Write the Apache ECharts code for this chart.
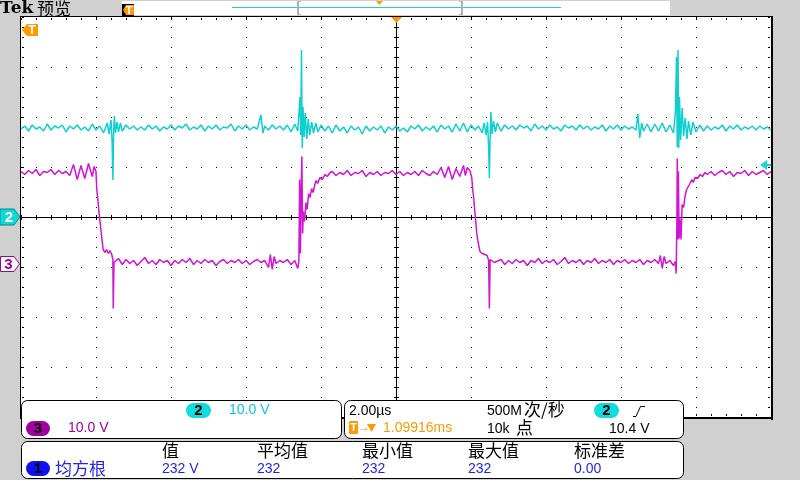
<!DOCTYPE html>
<html><head><meta charset="utf-8">
<script src="https://cdn.jsdelivr.net/npm/echarts@6/dist/echarts.min.js"></script>
<style>html,body{margin:0;padding:0;background:#d0d0d0}#c{width:800px;height:480px}</style>
</head><body><div id="c"></div><script>
// ---- data (time in µs, volts) ----
const ch2Samples = [[0,17.6],[0.1,18.2],[0.2,17.2],[0.3,18.4],[0.4,17.6],[0.5,18.0],[0.6,17.2],[0.7,18.6],[0.8,17.4],[0.9,18.2],[1.0,17.8],[1.1,18.4],[1.2,17.0],[1.3,18.2],[1.4,17.6],[1.5,18.4],[1.6,17.4],[1.7,18.0],[1.8,17.2],[1.9,18.6],[2.0,17.4],[2.1,18.2],[2.2,16.8],[2.3,18.8],[2.35,16.6],[2.4,19.4],[2.43,15.0],[2.45,7.4],[2.47,17.0],[2.49,20.2],[2.52,16.8],[2.56,19.0],[2.6,17.0],[2.65,18.8],[2.7,17.2],[2.8,18.4],[2.9,17.6],[3.0,18.2],[3.1,17.4],[3.2,18.0],[3.3,17.4],[3.4,18.4],[3.5,17.6],[3.6,18.2],[3.7,17.2],[3.8,18.0],[3.9,17.6],[4.0,18.4],[4.1,17.4],[4.2,18.2],[4.3,17.8],[4.4,18.6],[4.5,17.4],[4.6,18.0],[4.7,17.6],[4.8,18.4],[4.9,17.2],[5.0,18.2],[5.1,17.6],[5.2,18.4],[5.3,17.4],[5.4,18.0],[5.5,17.8],[5.6,18.6],[5.7,17.2],[5.8,18.2],[5.9,17.6],[6.0,18.4],[6.1,17.4],[6.2,18.0],[6.3,17.6],[6.4,20.4],[6.45,16.8],[6.5,18.2],[6.6,17.4],[6.7,18.4],[6.8,17.6],[6.9,18.2],[7.0,17.4],[7.1,18.4],[7.2,17.0],[7.3,18.6],[7.38,17.2],[7.42,21.6],[7.44,24.0],[7.46,16.4],[7.48,33.4],[7.5,13.8],[7.52,22.0],[7.55,16.0],[7.58,20.8],[7.62,15.6],[7.66,19.6],[7.7,16.4],[7.75,19.0],[7.8,16.8],[7.86,18.8],[7.92,17.0],[8.0,18.4],[8.1,17.2],[8.2,18.2],[8.3,16.8],[8.4,18.4],[8.5,17.2],[8.6,18.0],[8.7,16.8],[8.8,18.2],[8.9,17.4],[9.0,18.0],[9.1,16.6],[9.2,18.2],[9.3,17.2],[9.4,18.0],[9.5,17.4],[9.6,18.2],[9.7,16.8],[9.8,18.0],[9.9,17.4],[10.0,18.2],[10.1,17.2],[10.2,17.8],[10.3,17.0],[10.4,18.2],[10.5,17.6],[10.6,18.4],[10.7,17.2],[10.8,18.0],[10.9,17.4],[11.0,18.2],[11.1,17.0],[11.2,18.4],[11.3,17.6],[11.4,18.2],[11.5,17.0],[11.6,18.6],[11.7,17.2],[11.8,18.8],[11.9,17.0],[12.0,18.4],[12.1,17.4],[12.2,18.2],[12.3,16.8],[12.35,18.8],[12.4,16.4],[12.44,19.0],[12.47,14.0],[12.49,7.8],[12.51,16.2],[12.53,21.0],[12.56,16.6],[12.6,19.2],[12.65,17.0],[12.7,18.8],[12.8,17.2],[12.9,18.4],[13.0,17.6],[13.1,18.2],[13.2,17.4],[13.3,18.4],[13.4,17.8],[13.5,18.2],[13.6,17.2],[13.7,18.6],[13.8,17.6],[13.9,18.2],[14.0,17.4],[14.1,18.4],[14.2,17.6],[14.3,18.0],[14.4,17.2],[14.5,18.4],[14.6,17.8],[14.7,18.2],[14.8,17.4],[14.9,18.4],[15.0,17.6],[15.1,18.2],[15.2,17.4],[15.3,18.0],[15.4,17.6],[15.5,18.4],[15.6,17.2],[15.7,18.2],[15.8,17.6],[15.9,18.4],[16.0,17.4],[16.1,18.2],[16.2,17.6],[16.3,18.0],[16.4,17.4],[16.45,20.6],[16.5,15.8],[16.55,18.8],[16.6,17.2],[16.7,18.6],[16.8,17.0],[16.9,18.6],[17.0,17.2],[17.1,18.8],[17.2,17.0],[17.3,18.4],[17.4,16.8],[17.45,21.0],[17.48,32.0],[17.5,14.0],[17.52,33.4],[17.54,13.8],[17.56,24.0],[17.59,15.4],[17.63,21.8],[17.67,16.2],[17.71,19.8],[17.76,15.6],[17.8,19.2],[17.86,16.4],[17.92,19.0],[18.0,17.0],[18.1,18.4],[18.2,17.2],[18.3,18.2],[18.4,17.4],[18.5,18.0],[18.6,17.6],[18.7,18.4],[18.8,17.2],[18.9,18.2],[19.0,17.6],[19.1,18.4],[19.2,17.4],[19.3,18.0],[19.4,17.6],[19.5,18.2],[19.6,17.4],[19.7,18.2],[19.8,17.6],[19.9,18.0],[20.0,17.4]];

const ch3Samples = [[0,18.4],[0.1,17.8],[0.2,18.6],[0.3,18.0],[0.4,18.8],[0.5,17.6],[0.6,18.4],[0.7,18.2],[0.8,18.8],[0.9,17.8],[1.0,18.6],[1.1,18.0],[1.2,18.4],[1.3,17.6],[1.4,19.8],[1.5,16.8],[1.6,19.6],[1.7,17.0],[1.8,20.0],[1.9,17.4],[1.95,19.4],[2.0,18.4],[2.02,14.8],[2.05,12.8],[2.08,10.2],[2.11,8.2],[2.13,6.8],[2.16,4.8],[2.19,2.8],[2.24,2.2],[2.28,2.8],[2.33,2.0],[2.37,2.6],[2.42,1.8],[2.45,0.8],[2.46,-9.0],[2.48,0.2],[2.51,0.4],[2.6,1.0],[2.7,-0.2],[2.8,0.8],[2.9,0.0],[3.0,0.6],[3.1,-0.4],[3.2,0.4],[3.3,1.2],[3.4,0.0],[3.5,0.6],[3.6,-0.2],[3.7,0.8],[3.8,0.2],[3.9,0.6],[4.0,-0.4],[4.1,0.6],[4.2,0.0],[4.3,0.8],[4.4,0.2],[4.5,1.0],[4.6,-0.2],[4.7,0.6],[4.8,0.0],[4.9,0.8],[5.0,0.2],[5.1,0.6],[5.2,-0.4],[5.3,0.4],[5.4,0.8],[5.5,0.0],[5.6,0.6],[5.7,0.2],[5.8,0.8],[5.9,0.0],[6.0,0.6],[6.1,-0.2],[6.2,0.4],[6.3,0.8],[6.4,0.2],[6.5,0.6],[6.6,-0.8],[6.65,1.8],[6.7,-1.2],[6.75,1.4],[6.8,0.0],[6.9,0.6],[7.0,0.2],[7.1,0.8],[7.2,-0.2],[7.3,0.6],[7.38,-1.0],[7.41,0.4],[7.43,16.8],[7.45,2.0],[7.47,14.0],[7.49,21.4],[7.51,6.0],[7.53,10.4],[7.56,8.4],[7.6,12.2],[7.63,10.8],[7.67,14.0],[7.71,13.2],[7.75,15.0],[7.79,14.2],[7.83,15.6],[7.87,16.6],[7.91,16.0],[7.97,17.2],[8.03,16.8],[8.11,17.8],[8.17,17.4],[8.24,18.2],[8.3,18.4],[8.4,17.6],[8.5,18.2],[8.6,17.8],[8.7,18.6],[8.8,17.6],[8.9,18.2],[9.0,18.0],[9.1,18.6],[9.2,17.4],[9.3,18.2],[9.4,17.8],[9.5,18.4],[9.6,17.6],[9.7,18.2],[9.8,18.0],[9.9,18.6],[10.0,17.8],[10.1,18.4],[10.2,17.6],[10.3,18.2],[10.4,17.8],[10.5,18.4],[10.6,17.6],[10.7,18.6],[10.8,18.0],[10.9,17.6],[11.0,18.4],[11.1,17.8],[11.2,19.2],[11.3,17.2],[11.4,19.4],[11.5,16.8],[11.6,19.0],[11.7,17.4],[11.8,19.6],[11.85,17.6],[11.9,19.2],[11.97,18.6],[12.02,17.2],[12.05,14.4],[12.07,13.4],[12.09,11.4],[12.13,8.2],[12.15,6.2],[12.19,4.2],[12.24,2.4],[12.3,2.0],[12.37,1.8],[12.43,1.6],[12.47,0.6],[12.49,-9.0],[12.51,0.8],[12.56,0.8],[12.62,0.2],[12.67,0.4],[12.8,0.8],[12.9,-0.2],[13.0,0.6],[13.1,0.0],[13.2,0.8],[13.3,0.2],[13.4,0.6],[13.5,-0.4],[13.6,0.6],[13.7,0.2],[13.8,1.0],[13.9,0.0],[14.0,0.6],[14.1,0.2],[14.2,0.8],[14.3,-0.2],[14.4,0.4],[14.5,1.2],[14.6,0.0],[14.7,0.6],[14.8,0.2],[14.9,0.8],[15.0,-0.2],[15.1,0.6],[15.2,0.2],[15.3,1.0],[15.4,0.0],[15.5,0.6],[15.6,0.2],[15.7,0.8],[15.8,-0.2],[15.9,0.6],[16.0,0.2],[16.1,0.8],[16.2,0.0],[16.3,0.6],[16.4,0.2],[16.5,0.8],[16.6,-0.2],[16.7,0.6],[16.8,0.2],[16.9,0.8],[17.0,0.0],[17.05,1.6],[17.1,-1.0],[17.15,1.4],[17.2,0.0],[17.3,0.6],[17.4,-0.4],[17.45,0.4],[17.47,-2.0],[17.49,8.0],[17.5,21.0],[17.52,4.8],[17.53,18.4],[17.55,5.0],[17.57,9.0],[17.6,4.8],[17.63,11.8],[17.67,11.2],[17.71,13.6],[17.75,14.8],[17.79,15.2],[17.84,16.0],[17.89,16.8],[17.93,16.2],[17.97,17.2],[18.04,17.0],[18.11,17.8],[18.17,17.4],[18.24,18.2],[18.3,17.8],[18.4,18.4],[18.5,17.6],[18.6,18.2],[18.7,18.6],[18.8,17.8],[18.9,18.4],[19.0,17.4],[19.1,18.2],[19.2,18.0],[19.3,18.6],[19.4,17.6],[19.5,18.4],[19.6,17.8],[19.7,18.2],[19.8,18.6],[19.9,17.8],[20.0,18.4]];

const timeRange = [0, 20];       // µs across screen (2.00 µs/div)
const voltRange = [-40, 40];     // 10.0 V/div, 8 divisions
const ch2Ground = 0;             // ch2 marker position (screen volts)
const ch3Ground = -9.3;          // ch3 marker position (screen volts)
const trigLevel = 10.4;          // ch2 trigger level (V)

const measHeaders = ['值','平均值','最小值','最大值','标准差'];
const measValues  = ['232 V','232','232','232','0.00'];

// ---- chart ----
const chart = echarts.init(document.getElementById('c'));
const ch2Data = ch2Samples.map(p => [p[0], p[1] + ch2Ground]);
const ch3Data = ch3Samples.map(p => [p[0], p[1] + ch3Ground]);

chart.setOption({
  animation: false,
  backgroundColor: '#d0d0d0',
  grid: {left: 21, top: 17, width: 750, height: 400, show: true, backgroundColor: '#ffffff', borderWidth: 0},
  xAxis: {type: 'value', min: timeRange[0], max: timeRange[1], interval: 2,
    axisLine: {show: false}, axisTick: {show: false}, axisLabel: {show: false}, splitLine: {show: false}},
  yAxis: {type: 'value', min: voltRange[0], max: voltRange[1], interval: 10,
    axisLine: {show: false}, axisTick: {show: false}, axisLabel: {show: false}, splitLine: {show: false}},
  series: [
    {type: 'line', data: ch3Data, symbol: 'none', sampling: null, z: 3,
     lineStyle: {color: '#d414d4', width: 1.5}},
    {type: 'line', data: ch2Data, symbol: 'none', sampling: null, z: 4,
     lineStyle: {color: '#10cfcf', width: 1.5}}
  ]
});

const P = (t, v) => chart.convertToPixel({gridIndex: 0}, [t, v]);
const [x0, y0] = P(timeRange[0], voltRange[1]);
const [x1, y1] = P(timeRange[1], voltRange[0]);
const xc = Math.round(P((timeRange[0] + timeRange[1]) / 2, 0)[0]);
const yc = Math.round(P(0, ch2Ground)[1]);
const g3 = Math.round(P(0, ch3Ground)[1]);
const yt = Math.round(P(0, trigLevel + ch2Ground)[1]);
const X0 = Math.round(x0), Y0 = Math.round(y0), X1 = Math.round(x1), Y1 = Math.round(y1);

const G = [];
const rect = (x, y, w, h, fill, z) => G.push({type: 'rect', shape: {x, y, width: w, height: h}, style: {fill}, z: z || 50, silent: true});
const poly = (pts, fill, stroke, z) => G.push({type: 'polygon', shape: {points: pts}, style: {fill, stroke: stroke || null, lineWidth: 1}, z: z || 60, silent: true});
const txt = (x, y, s, color, font, align, z) => G.push({type: 'text', x, y, z: z || 70, silent: true,
  style: {text: s, fill: color, font, align: align || 'left', verticalAlign: 'middle', textAlign: align || 'left', textVerticalAlign: 'middle'}});
const LAT = '"Liberation Sans", "DejaVu Sans", sans-serif';
const CJK = '"Noto Sans CJK SC", sans-serif';

const wpx = (X1 - X0), hpx = (Y1 - Y0);
const NX = 10, NY = 8;
// dotted graticule (z below traces)
for (let a = 1; a < NY; a++) {
  if (a === NY / 2) continue;
  const py = Math.round(Y0 + a * hpx / NY);
  for (let i = 0; i <= 50; i++) rect(Math.round(X0 + i * wpx / 50), py, 1, 1, '#000', 1);
}
for (let b = 1; b < NX; b++) {
  if (b === NX / 2) continue;
  const px = Math.round(X0 + b * wpx / NX);
  for (let j = 0; j <= 40; j++) rect(px, Math.round(Y0 + j * hpx / 40), 1, 1, '#000', 1);
}
// crosshair
rect(X0, yc, X1 - X0, 1, '#000', 1);
rect(xc, Y0, 1, Y1 - Y0, '#000', 1);
for (let i = 0; i <= 50; i++) {
  const px = Math.round(X0 + i * wpx / 50);
  rect(px, yc - 2, 1, 5, '#000', 1);
  rect(px, Y0 + 1, 1, 2, '#000', 1);
  rect(px, Y1 - 3, 1, 2, '#000', 1);
}
for (let j = 0; j <= 40; j++) {
  const py = Math.round(Y0 + j * hpx / 40);
  rect(xc - 2, py, 5, 1, '#000', 1);
  rect(X0 + 1, py, 2, 1, '#000', 1);
  rect(X1 - 3, py, 2, 1, '#000', 1);
}
// frame
rect(X0 - 1, Y0 - 1, X1 - X0 + 2, 1, '#000');
rect(X0 - 1, Y0 - 1, 1, Y1 - Y0 + 2, '#000');
rect(X1, Y0 - 1, 2, Y1 - Y0 + 4, '#000');
rect(X0 - 1, Y1, X1 - X0 + 3, 2, '#000');

// top bar
txt(0, 9, 'Tek', '#000', 'bold 17px "DejaVu Serif", serif');
txt(37, 8.5, '预览', '#000', '17px ' + CJK);
rect(122, 1, 548, 14, '#ffffff');
rect(232, 7, 329, 1, '#20d0d0');
rect(297, 1, 2, 14, '#b0b0b0'); rect(297, 1, 4, 1, '#b0b0b0'); rect(297, 14, 4, 1, '#b0b0b0');
rect(461, 1, 2, 14, '#b0b0b0'); rect(459, 1, 4, 1, '#b0b0b0'); rect(459, 14, 4, 1, '#b0b0b0');
poly([[376, 1], [383, 1], [379.5, 5]], '#f5a000');
rect(122, 4, 12, 12, '#000');
poly([[123, 10], [126, 5], [134, 5], [134, 15], [126, 15]], '#ff9900');
txt(129, 10.5, 'T', '#fff', 'bold 11px ' + LAT, 'center');

// in-plot markers
poly([[22, 30], [27, 24], [38, 24], [38, 36], [27, 36]], '#ff9900');
txt(32, 30.5, 'T', '#fff', 'bold 13px ' + LAT, 'center');
poly([[xc - 5, Y0], [xc + 6, Y0], [xc + 0.5, Y0 + 6]], '#ff9900');
poly([[0, yc - 8], [14, yc - 8], [20, yc], [14, yc + 8], [0, yc + 8]], '#10d8d8', '#008c8c');
txt(9, yc + 0.5, '2', '#fff', 'bold 15px ' + LAT, 'center');
poly([[0.5, g3 - 7.5], [14, g3 - 7.5], [19.5, g3], [14, g3 + 7.5], [0.5, g3 + 7.5]], '#fff', '#a000a0');
txt(8.5, g3 + 0.5, '3', '#a000a0', 'bold 15px ' + LAT, 'center');
poly([[X1 - 11, yt], [X1 - 4, yt - 5], [X1 - 4, yt + 5]], '#10d8d8');
rect(X1 - 5, yt - 1, 5, 2, '#10d8d8');

// panels
const panel = (x, y, w, h) => G.push({type: 'rect', shape: {x: x + 0.5, y: y + 0.5, width: w, height: h, r: 6}, style: {fill: '#fff', stroke: '#000', lineWidth: 1}, z: 65, silent: true});
panel(21, 400, 320, 38);
panel(344, 400, 339, 38);
panel(21, 441, 662, 37);
const oval = (x, y, w, h, fill, label) => {
  G.push({type: 'rect', shape: {x, y, width: w, height: h, r: h / 2}, style: {fill}, z: 68, silent: true});
  txt(x + w / 2, y + h / 2 + 0.5, label, '#000', 'bold 15px ' + LAT, 'center');
};
oval(186, 403, 25, 15, '#10dcdc', '2');
txt(229, 410.5, '10.0 V', '#10c8d0', '14px ' + LAT);
oval(26, 421, 24, 15, '#a000a0', '3');
txt(68, 428.5, '10.0 V', '#a000a0', '14px ' + LAT);

txt(349, 411, '2.00µs', '#000', '14px ' + LAT);
G.push({type: 'rect', shape: {x: 349, y: 421, width: 9, height: 13, r: 1}, style: {fill: '#ff9900'}, z: 68, silent: true});
txt(353.5, 428, 'T', '#fff', 'bold 11px ' + LAT, 'center');
txt(358, 428, '→', '#ff9900', 'bold 12px ' + LAT);
poly([[367, 424], [376, 424], [371.5, 432]], '#ff9900', null, 70);
txt(383, 428.5, '1.09916ms', '#ff9900', '14px ' + LAT);
txt(487, 411, '500M', '#000', '14px ' + LAT);
txt(524, 410, '次/秒', '#000', '17px ' + CJK);
txt(487, 429, '10k', '#000', '14px ' + LAT);
txt(516, 428, '点', '#000', '17px ' + CJK);
oval(594, 403, 25, 15, '#10dcdc', '2');
G.push({type: 'polyline', shape: {points: [[633, 416.5], [636, 416.5], [640.5, 406.5], [645, 406.5]]}, style: {stroke: '#000', lineWidth: 1, fill: null}, z: 70, silent: true});
txt(609, 429, '10.4 V', '#000', '14px ' + LAT);

const colX = [162, 257, 362, 468, 574];
measHeaders.forEach((h, i) => txt(colX[i], 451, h, '#000', '17px ' + CJK));
measValues.forEach((v, i) => txt(colX[i], 469.5, v, '#2424e8', '14px ' + LAT));
oval(26, 461, 24, 15, '#1010f0', '1');
txt(55, 468.5, '均方根', '#2424e8', '17px ' + CJK);

chart.setOption({graphic: {elements: G}});
</script></body></html>
